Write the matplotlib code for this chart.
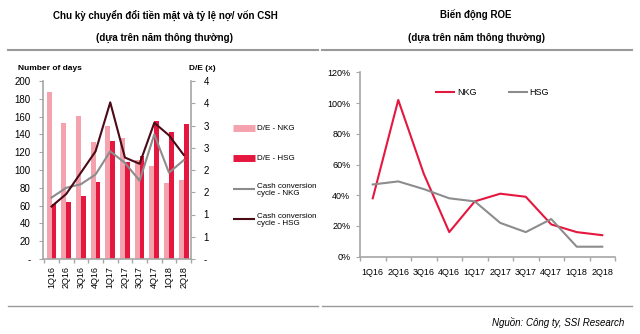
import matplotlib
matplotlib.use("Agg")
import matplotlib.pyplot as plt
from matplotlib import font_manager
import numpy as np

names = {f.name for f in font_manager.fontManager.ttflist}
narrow = "Liberation Sans Narrow" if "Liberation Sans Narrow" in names else "Liberation Sans"
plt.rcParams["font.family"] = [narrow, "DejaVu Sans"]

quarters = ["1Q16", "2Q16", "3Q16", "4Q16", "1Q17", "2Q17", "3Q17", "4Q17", "1Q18", "2Q18"]

# D/E ratios (x)
de_nkg = [3.76, 3.06, 3.22, 2.62, 2.98, 2.72, 2.22, 2.10, 1.70, 1.78]
de_hsg = [1.24, 1.27, 1.42, 1.74, 2.65, 2.19, 2.31, 3.10, 2.86, 3.04]

# Cash conversion cycle (days)
ccc_nkg = [69, 80, 84, 95, 121, 108, 88, 140, 97, 111]
ccc_hsg = [59, 73, 97, 121, 176, 114, 107, 153, 139, 117]

# ROE (%)
roe_nkg = [38, 102, 54, 16, 36, 41, 39, 21, 16, 14]
roe_hsg = [47, 49, 44, 38, 36, 22, 16, 24.5, 6.5, 6.5]

left_legend = ["D/E - NKG", "D/E - HSG", "Cash conversion\ncycle - NKG", "Cash conversion\ncycle - HSG"]

PINK = "#F4A3AE"
RED = "#E5173F"
GREY = "#8C8C8C"
DARK = "#4A0A16"
SPINE = "#A6A6A6"

fig = plt.figure(figsize=(6.4, 3.34), dpi=100)
W, H = 640, 334

def fx(px):
    return px / W

def fy(py):
    return 1 - py / H

# Titles and rules
title_kw = dict(ha="center", va="center", fontsize=7, fontweight="bold")
fig.text(fx(165), fy(15), "Chu kỳ chuyển đổi tiền mặt và tỷ lệ nợ/ vốn CSH", **title_kw)
fig.text(fx(165), fy(38), "(dựa trên năm thông thường)", **title_kw)
fig.text(fx(476), fy(15), "Biến động ROE", **title_kw)
fig.text(fx(476), fy(38), "(dựa trên năm thông thường)", **title_kw)

for (x0, x1) in [(8, 318), (322, 632)]:
    fig.add_artist(plt.Line2D([fx(x0), fx(x1)], [fy(50), fy(50)], color="#999999", lw=1.5))
    fig.add_artist(plt.Line2D([fx(x0), fx(x1)], [fy(306), fy(306)], color="#999999", lw=1.0))

fig.text(fx(624), fy(322), "Nguồn: Công ty, SSI Research", ha="right", va="center",
         fontsize=7, style="italic")

# ---- Left chart: cash conversion cycle and D/E ----
x = np.arange(len(quarters))
axL = fig.add_axes([fx(43), fy(259), fx(191) - fx(43), fy(81) - fy(259)])
axR = axL.twinx()
axR.set_zorder(1)
axL.set_zorder(2)
axL.patch.set_visible(False)

bw = 0.33
axR.bar(x - bw / 2, de_nkg, width=bw, color=PINK)
axR.bar(x + bw / 2, de_hsg, width=bw, color=RED)
axL.plot(x, ccc_nkg, color=GREY, lw=1.5)
axL.plot(x, ccc_hsg, color=DARK, lw=1.5)

axL.set_xlim(-0.58, 9.5)
axL.set_ylim(0, 200)
axR.set_ylim(0, 4)
axL.set_yticks(np.arange(0, 201, 20))
axL.set_yticklabels(["-"] + [str(v) for v in range(20, 201, 20)])
de_ticks = np.arange(0, 4.01, 0.5)
axR.set_yticks(de_ticks)
axR.set_yticklabels(["-"] + [str(int(np.floor(v + 0.5))) for v in de_ticks[1:]])

axL.set_xticks(x)
axL.set_xticklabels(quarters, rotation=90)
axL.set_xticks(np.arange(-0.5, 9.6, 1), minor=True)
axL.tick_params(axis="x", which="major", length=0, labelsize=6.5, pad=5)
axL.tick_params(axis="x", which="minor", length=3, color=SPINE, width=1)
axL.tick_params(axis="y", length=3, color=SPINE, labelsize=7, pad=6)
axR.tick_params(axis="y", length=3, color=SPINE, labelsize=7, pad=6)

for ax in (axL, axR):
    ax.spines["top"].set_visible(False)
    for s in ("left", "right", "bottom"):
        ax.spines[s].set_color(SPINE)
        ax.spines[s].set_linewidth(1.2)
axL.spines["right"].set_visible(False)
axR.spines["left"].set_visible(False)
axR.spines["bottom"].set_visible(False)

fig.text(fx(18), fy(68), "Number of days", ha="left", va="center", fontsize=6, fontweight="bold")
fig.text(fx(189), fy(68), "D/E (x)", ha="left", va="center", fontsize=6, fontweight="bold")

# Legend of the left chart, laid out as a vertical key
key_styles = [(PINK, 5), (RED, 5), (GREY, 1.5), (DARK, 1.5)]
key_rows = [128, 158, 189, 219]
for (col, lw), row, label in zip(key_styles, key_rows, left_legend):
    fig.add_artist(plt.Line2D([fx(233), fx(255)], [fy(row), fy(row)], color=col, lw=lw,
                              solid_capstyle="butt"))
    fig.text(fx(257), fy(row + 1), label, ha="left", va="center", fontsize=5.8,
             linespacing=1.15)

# ---- Right chart: ROE ----
ax2 = fig.add_axes([fx(360), fy(256.7), fx(615) - fx(360), fy(72.3) - fy(256.7)])
r1, = ax2.plot(x, roe_nkg, color=RED, lw=1.5)
r2, = ax2.plot(x, roe_hsg, color=GREY, lw=1.5)
ax2.set_xlim(-0.5, 9.5)
ax2.set_ylim(0, 120)
ax2.set_yticks(np.arange(0, 121, 20))
ax2.set_yticklabels([f"{v}%" for v in range(0, 121, 20)])
ax2.set_xticks(x)
ax2.set_xticklabels(quarters)
ax2.set_xticks(np.arange(-0.5, 9.6, 1), minor=True)
ax2.tick_params(axis="x", which="major", length=0, labelsize=6.5, pad=8)
ax2.tick_params(axis="x", which="minor", length=3, color=SPINE, width=1)
ax2.tick_params(axis="y", length=3, color=SPINE, labelsize=6.5, pad=4)
for s in ("top", "right"):
    ax2.spines[s].set_visible(False)
for s in ("left", "bottom"):
    ax2.spines[s].set_color(SPINE)
    ax2.spines[s].set_linewidth(1.2)
ax2.legend([r1, r2], ["NKG", "HSG"], loc="center left", bbox_to_anchor=(fx(436), fy(93)),
           bbox_transform=fig.transFigure, ncol=2, frameon=False, fontsize=6.5,
           handlelength=2.0, handletextpad=0.3, columnspacing=3.6, borderaxespad=0, borderpad=0)

fig.savefig("out.png", dpi=100)
